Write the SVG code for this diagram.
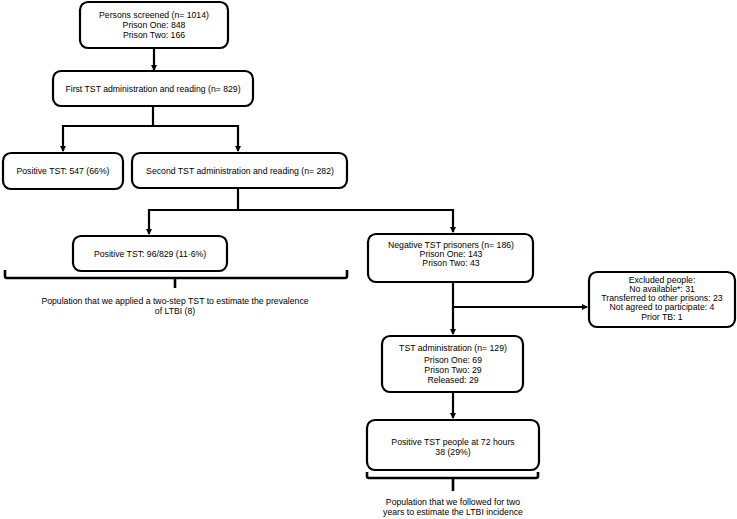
<svg xmlns="http://www.w3.org/2000/svg" width="737" height="519" viewBox="0 0 737 519">
<defs>
<style>
.box{fill:#fff;stroke:#000;stroke-width:2.2}
.ln{fill:none;stroke:#000;stroke-width:2.2}
.br{fill:none;stroke:#000;stroke-width:2.6;stroke-linejoin:round}
text{font-family:"Liberation Sans",Arial,sans-serif;font-size:8.7px;fill:#000;text-anchor:middle}
</style>
<marker id="ah" markerWidth="6" markerHeight="6" refX="5" refY="3" orient="auto" markerUnits="userSpaceOnUse">
<path d="M0,0 L6,3 L0,6 Z" fill="#000"/>
</marker>
</defs>
<rect width="737" height="519" fill="#fff"/>
<g id="connectors">
<path class="ln" d="M154,48 V70" marker-end="url(#ah)"/>
<path class="ln" d="M153,106 V126"/>
<path class="ln" d="M63,126 H238"/>
<path class="ln" d="M63,125 V151" marker-end="url(#ah)"/>
<path class="ln" d="M238,125 V151" marker-end="url(#ah)"/>
<path class="ln" d="M238,188 V210"/>
<path class="ln" d="M149,210 H453"/>
<path class="ln" d="M149,209 V234" marker-end="url(#ah)"/>
<path class="ln" d="M453,209 V232" marker-end="url(#ah)"/>
<path class="ln" d="M453,282 V334" marker-end="url(#ah)"/>
<path class="ln" d="M452,307 H587" marker-end="url(#ah)"/>
<path class="ln" d="M453,392 V418" marker-end="url(#ah)"/>
<path class="br" d="M5,270 V276 Q5,278 7,278 H345 Q347,278 347,276 V270 M175,278 V288"/>
<path class="br" d="M367,472 V476 Q367,478 369,478 H536 Q538,478 538,476 V472 M453,478 V491"/>
</g>
<g id="n1">
<rect class="box" x="80" y="2" width="148" height="46" rx="8"/>
<text x="154" y="18">Persons screened (n= 1014)</text>
<text x="154" y="28">Prison One: 848</text>
<text x="154" y="38">Prison Two: 166</text>
</g>
<g id="n2">
<rect class="box" x="53" y="71" width="200" height="35" rx="8"/>
<text x="153" y="92">First TST administration and reading (n= 829)</text>
</g>
<g id="n3">
<rect class="box" x="3" y="153" width="120" height="36" rx="8"/>
<text x="63" y="174">Positive TST: 547 (66%)</text>
</g>
<g id="n4">
<rect class="box" x="132" y="153" width="215" height="35" rx="8"/>
<text x="240" y="174">Second TST administration and reading (n= 282)</text>
</g>
<g id="n5">
<rect class="box" x="73" y="236" width="154" height="35" rx="8"/>
<text x="150" y="257">Positive TST: 96/829 (11·6%)</text>
</g>
<g id="n6">
<rect class="box" x="368" y="234" width="165" height="48" rx="8"/>
<text x="451" y="248">Negative TST prisoners (n= 186)</text>
<text x="451" y="257">Prison One: 143</text>
<text x="451" y="266">Prison Two: 43</text>
</g>
<g id="n7">
<rect class="box" x="589" y="272" width="146" height="55" rx="8"/>
<text x="662" y="283">Excluded people:</text>
<text x="662" y="292">No available*: 31</text>
<text x="662" y="301">Transferred to other prisons: 23</text>
<text x="662" y="310">Not agreed to participate: 4</text>
<text x="662" y="320">Prior TB: 1</text>
</g>
<g id="n8">
<rect class="box" x="382" y="336" width="141" height="56" rx="8"/>
<text x="453" y="351">TST administration (n= 129)</text>
<text x="453" y="363">Prison One: 69</text>
<text x="453" y="373">Prison Two: 29</text>
<text x="453" y="383">Released: 29</text>
</g>
<g id="n9">
<rect class="box" x="367" y="420" width="172" height="50" rx="8"/>
<text x="453" y="445">Positive TST people at 72 hours</text>
<text x="453" y="455">38 (29%)</text>
</g>
<g id="labels">
<text x="175" y="304">Population that we applied a two-step TST to estimate the prevalence</text>
<text x="175" y="314">of LTBI (8)</text>
<text x="453" y="505">Population that we followed for two</text>
<text x="453" y="515">years to estimate the LTBI incidence</text>
</g>
</svg>
